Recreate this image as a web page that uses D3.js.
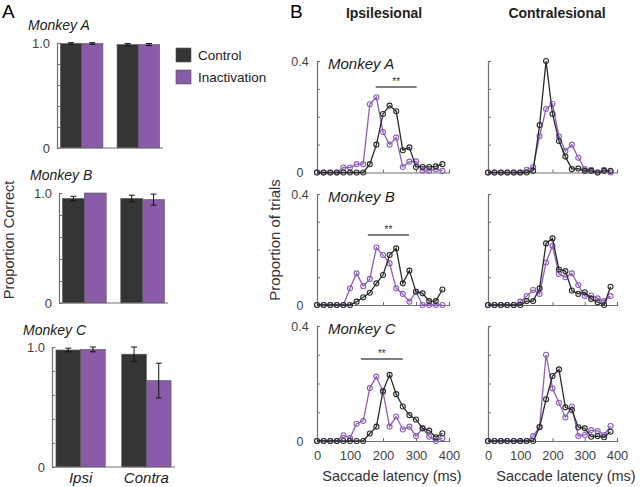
<!DOCTYPE html>
<html>
<head>
<meta charset="utf-8">
<script src="https://cdn.jsdelivr.net/npm/d3@7"></script>
<style>
  body { margin: 0; background: #fff; }
  svg text { font-family: Arial, "Liberation Sans", sans-serif; }
</style>
</head>
<body>
<svg id="chart" width="640" height="487"></svg>
<script>
// ---- data: panel A (proportion correct) ----
const monkeys = ["Monkey A", "Monkey B", "Monkey C"];
const sides = ["Ipsi", "Contra"];
const conditions = ["Control", "Inactivation"];
// [ipsi, contra]
const correctControl = [[0.995, 0.985], [0.95, 0.95], [0.975, 0.94]];
const correctInact = [[0.995, 0.985], [1.0, 0.94], [0.98, 0.72]];
const errControl = [[0.008, 0.01], [0.02, 0.03], [0.015, 0.06]];
const errInact = [[0.008, 0.01], [0, 0.05], [0.02, 0.145]];

// ---- data: panel B (latency distributions) ----
const latency = [0, 20, 40, 60, 80, 100, 120, 140, 160, 180, 200, 220, 240, 260, 280, 300, 320, 340, 360, 380];
const ipsiA_ctrl = [0, 0, 0, 0, 0, 0, 0, 0, 0.03, 0.10, 0.21, 0.24, 0.22, 0.08, 0.09, 0.02, 0.02, 0.02, 0.022, 0.03];
const ipsiA_inact = [0, 0, 0, 0, 0.018, 0.018, 0.03, 0.03, 0.245, 0.27, 0.145, 0.10, 0.125, 0.02, 0.039, 0.04, 0.006, 0.006, 0.012, 0.006];
const contraA_ctrl = [0, 0, 0, 0, 0, 0, 0, 0.006, 0.17, 0.40, 0.21, 0.113, 0.057, 0.012, 0.014, 0.006, 0.006, 0, 0.006, 0.006];
const contraA_inact = [0, 0, 0, 0, 0, 0, 0.01, 0.02, 0.13, 0.228, 0.246, 0.13, 0.077, 0.10, 0.053, 0.012, 0.01, 0, 0.01, 0];
const ipsiB_ctrl = [0, 0, 0, 0, 0, 0, 0.012, 0.028, 0.044, 0.078, 0.108, 0.18, 0.204, 0.078, 0.124, 0.048, 0.042, 0.014, 0.014, 0.056];
const ipsiB_inact = [0, 0, 0, 0, 0, 0.06, 0.114, 0.068, 0.094, 0.207, 0.18, 0.15, 0.06, 0.04, 0.012, 0.048, 0, 0, 0, 0];
const contraB_ctrl = [0, 0, 0, 0, 0, 0, 0.014, 0.014, 0.06, 0.222, 0.24, 0.128, 0.122, 0.052, 0.04, 0.046, 0.022, 0.01, 0, 0.066];
const contraB_inact = [0, 0, 0, 0, 0, 0.012, 0.032, 0.054, 0.04, 0.153, 0.213, 0.112, 0.10, 0.114, 0.072, 0.032, 0.034, 0.024, 0.014, 0.032];
const ipsiC_ctrl = [0, 0, 0, 0, 0, 0, 0, 0, 0.026, 0.05, 0.174, 0.23, 0.163, 0.12, 0.09, 0.075, 0.044, 0.036, 0.013, 0.027];
const ipsiC_inact = [0, 0, 0, 0, 0.02, 0.01, 0.06, 0.07, 0.184, 0.224, 0.171, 0.05, 0.085, 0.04, 0.05, 0.017, 0.044, 0.015, 0, 0.01];
const contraC_ctrl = [0, 0, 0, 0, 0, 0, 0, 0, 0.048, 0.145, 0.226, 0.249, 0.117, 0.108, 0.048, 0.044, 0.015, 0.017, 0.013, 0.032];
const contraC_inact = [0, 0, 0, 0, 0, 0, 0, 0.017, 0.05, 0.30, 0.183, 0.133, 0.082, 0.12, 0.017, 0.021, 0.038, 0.035, 0.021, 0.052];
// significance bars [start ms, end ms, height]
const sigBars = [[178, 302, 0.307], [154, 279, 0.252], [133, 260, 0.285]];

const svg = d3.select("#chart");
const axisColor = "#707070";
const ctrlColor = "#353535";
const inactColor = "#8a5ba8";
const ctrlLine = "#2a2a2a";
const inactLine = "#8d5fb8";

function styleAxis(g) {
    g.select(".domain").attr("stroke", axisColor).attr("stroke-width", 1.2);
    g.selectAll(".tick line").attr("stroke", axisColor);
    g.selectAll(".tick text").attr("fill", "#444").style("font-size", "12px");
}

// ---- panel A ----
const barLayout = [
    {x0: 57, x1: 163, y0: 148, y1: 43, titleY: 30},
    {x0: 59, x1: 168, y0: 303, y1: 193, titleY: 180},
    {x0: 52, x1: 175, y0: 467, y1: 347, titleY: 335}
];

svg.append("text").attr("x", 2).attr("y", 18).style("font-size", "19px").text("A");

barLayout.forEach((p, m) => {
    const g = svg.append("g");
    const x = d3.scaleBand().domain(sides).range([p.x0, p.x1]).paddingInner(0.25).paddingOuter(0.06);
    const xc = d3.scaleBand().domain(conditions).range([0, x.bandwidth()]);
    const y = d3.scaleLinear().domain([0, 1]).range([p.y0, p.y1]);

    g.append("text").attr("x", p.x0 - 29).attr("y", p.titleY)
        .style("font-size", "14px").style("font-style", "italic").attr("fill", "#222")
        .text(monkeys[m]);

    const rows = [];
    sides.forEach((s, i) => {
        rows.push({side: s, cond: "Control", v: correctControl[m][i], e: errControl[m][i]});
        rows.push({side: s, cond: "Inactivation", v: correctInact[m][i], e: errInact[m][i]});
    });

    g.selectAll("rect.bar").data(rows).enter().append("rect")
        .attr("class", "bar")
        .attr("x", d => x(d.side) + xc(d.cond))
        .attr("width", xc.bandwidth())
        .attr("y", d => y(d.v))
        .attr("height", d => y(0) - y(d.v))
        .attr("fill", d => d.cond === "Control" ? ctrlColor : inactColor)
        .attr("stroke", "#555").attr("stroke-width", 0.6);

    const eb = g.selectAll("g.err").data(rows.filter(d => d.e > 0)).enter().append("g")
        .attr("transform", d => "translate(" + (x(d.side) + xc(d.cond) + xc.bandwidth() / 2) + ",0)");
    eb.append("line").attr("y1", d => y(d.v - d.e)).attr("y2", d => y(d.v + d.e))
        .attr("stroke", "#111").attr("stroke-width", 1);
    eb.append("line").attr("x1", -3).attr("x2", 3).attr("y1", d => y(d.v + d.e)).attr("y2", d => y(d.v + d.e))
        .attr("stroke", "#111").attr("stroke-width", 1);
    eb.append("line").attr("x1", -3).attr("x2", 3).attr("y1", d => y(d.v - d.e)).attr("y2", d => y(d.v - d.e))
        .attr("stroke", "#111").attr("stroke-width", 1);

    const ya = g.append("g").attr("transform", "translate(" + p.x0 + ",0)")
        .call(d3.axisLeft(y).tickValues([0, 0.2, 0.4, 0.6, 0.8, 1]).tickSize(-3).tickPadding(7)
            .tickFormat(d => d === 0 ? "0" : d === 1 ? "1.0" : ""))
        .call(styleAxis);
    ya.selectAll(".tick text").style("font-size", "13px");

    g.append("line").attr("x1", p.x0).attr("x2", p.x1).attr("y1", p.y0).attr("y2", p.y0)
        .attr("stroke", axisColor).attr("stroke-width", 1.2);

    if (m === 2) {
        g.selectAll("text.side").data(sides).enter().append("text")
            .attr("x", d => x(d) + x.bandwidth() / 2).attr("y", 483)
            .attr("text-anchor", "middle").style("font-size", "15px").style("font-style", "italic")
            .attr("fill", "#222").text(d => d);
    }
});

svg.append("text").attr("transform", "translate(14,240) rotate(-90)")
    .attr("text-anchor", "middle").style("font-size", "14.5px").attr("fill", "#333")
    .text("Proportion Correct");

// legend
const legend = svg.append("g").selectAll("g").data(conditions).enter().append("g")
    .attr("transform", (d, i) => "translate(176," + (48 + i * 22) + ")");
legend.append("rect").attr("width", 15).attr("height", 14)
    .attr("fill", d => d === "Control" ? ctrlColor : inactColor).attr("stroke", "#555").attr("stroke-width", 0.6);
legend.append("text").attr("x", 22).attr("y", 12).style("font-size", "13.5px").attr("fill", "#222").text(d => d);

// ---- panel B ----
svg.append("text").attr("x", 290).attr("y", 18).style("font-size", "19px").text("B");
svg.append("text").attr("x", 384).attr("y", 18).attr("text-anchor", "middle")
    .style("font-size", "14px").style("font-weight", "bold").attr("fill", "#222").text("Ipsilesional");
svg.append("text").attr("x", 557).attr("y", 18).attr("text-anchor", "middle")
    .style("font-size", "14px").style("font-weight", "bold").attr("fill", "#222").text("Contralesional");

const lineRows = [
    {y0: 172.5, y1: 61, ipsi: [ipsiA_ctrl, ipsiA_inact], contra: [contraA_ctrl, contraA_inact]},
    {y0: 305, y1: 194, ipsi: [ipsiB_ctrl, ipsiB_inact], contra: [contraB_ctrl, contraB_inact]},
    {y0: 441, y1: 326, ipsi: [ipsiC_ctrl, ipsiC_inact], contra: [contraC_ctrl, contraC_inact]}
];
const columns = [
    {key: "ipsi", x0: 317, x1: 449},
    {key: "contra", x0: 488, x1: 617}
];

lineRows.forEach((r, ri) => {
    columns.forEach((c, ci) => {
        const g = svg.append("g");
        const x = d3.scaleLinear().domain([0, 400]).range([c.x0, c.x1]);
        const y = d3.scaleLinear().domain([0, 0.4]).range([r.y0, r.y1]);

        const xa = g.append("g").attr("transform", "translate(0," + r.y0 + ")")
            .call(d3.axisBottom(x).tickValues([0, 100, 200, 300, 400]).tickSize(-3).tickPadding(10)
                .tickFormat(ri === 2 ? d3.format("d") : ""))
            .call(styleAxis);
        xa.selectAll(".tick text").style("font-size", "13px");

        const ya = g.append("g").attr("transform", "translate(" + c.x0 + ",0)")
            .call(d3.axisLeft(y).tickValues([0, 0.1, 0.2, 0.3, 0.4]).tickSize(-3)
                .tickFormat(d => ci === 0 && (d === 0 || d === 0.4) ? (d === 0 ? "0" : "0.4") : ""))
            .call(styleAxis);
        ya.selectAll(".tick text").attr("text-anchor", "middle").attr("x", -17).style("font-size", "12.5px");

        const series = r[c.key];
        const line = d3.line().x((d, i) => x(latency[i])).y(d => y(d));
        [[series[1], inactLine], [series[0], ctrlLine]].forEach(([vals, col]) => {
            g.append("path").datum(vals).attr("d", line)
                .attr("fill", "none").attr("stroke", col).attr("stroke-width", 1.3);
            g.selectAll(null).data(vals).enter().append("circle")
                .attr("cx", (d, i) => x(latency[i])).attr("cy", d => y(d)).attr("r", 2.5)
                .attr("fill", "none").attr("stroke", col).attr("stroke-width", 1.1);
        });

        if (ci === 0) {
            g.append("text").attr("x", 328).attr("y", r.y1 + 8)
                .style("font-size", "15px").style("font-style", "italic").attr("fill", "#222")
                .text(monkeys[ri]);
            const sb = sigBars[ri];
            g.append("line").attr("x1", x(sb[0])).attr("x2", x(sb[1]))
                .attr("y1", y(sb[2])).attr("y2", y(sb[2]))
                .attr("stroke", "#555").attr("stroke-width", 1.5);
            g.append("text").attr("x", (x(sb[0]) + x(sb[1])) / 2).attr("y", y(sb[2]) - 2)
                .attr("text-anchor", "middle").style("font-size", "10px").attr("fill", "#333").text("**");
        }
        if (ri === 2) {
            g.append("text").attr("x", ci === 0 ? 392 : 566).attr("y", 481)
                .attr("text-anchor", "middle").style("font-size", "14.5px").attr("fill", "#333")
                .text("Saccade latency (ms)");
        }
    });
});

svg.append("text").attr("transform", "translate(280,240) rotate(-90)")
    .attr("text-anchor", "middle").style("font-size", "15px").attr("fill", "#333")
    .text("Proportion of trials");
</script>
</body>
</html>
